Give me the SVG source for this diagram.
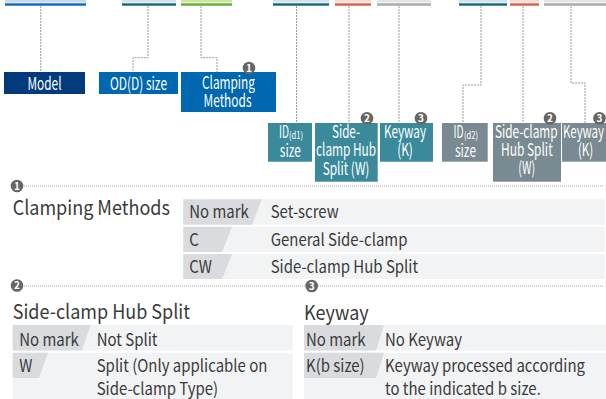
<svg xmlns="http://www.w3.org/2000/svg" width="606" height="399" viewBox="0 0 606 399">
<style>
text{font-family:"Noto Sans CJK SC","Noto Sans",sans-serif}
.bl{fill:#fff;font-size:17.5px;text-anchor:middle}
.sub{font-size:10px}
.conn{fill:none;stroke:#9a9a9a;stroke-width:1;stroke-dasharray:2 1}
.sep{fill:none;stroke:#a8a8a8;stroke-width:1;stroke-dasharray:1 1}
.badge circle{fill:#666}
.badge text{fill:#fff;font-size:10px;text-anchor:middle;font-weight:bold}
.hd{fill:#3a3a3a;font-size:20px}
.tt{fill:#3a3a3a;font-size:17px}
.bg{fill:#f2f3f5}
.lb{fill:#d9dbdf}
</style>
<defs>
<g id="b1" class="badge"><circle r="6.3"/><text y="3.6">1</text></g>
<g id="b2" class="badge"><circle r="6.3"/><text y="3.6">2</text></g>
<g id="b3" class="badge"><circle r="6.3"/><text y="3.6">3</text></g>
</defs>
<g id="bars">
<rect x="5" y="0" width="81" height="2.5" fill="#c5d8ec"/><rect x="5" y="3.3" width="81" height="2.4" fill="#0a6ab3"/>
<rect x="122" y="0" width="54" height="2.5" fill="#d3e3e7"/><rect x="122" y="3.3" width="54" height="2.4" fill="#12657a"/>
<rect x="181" y="0" width="51" height="2.5" fill="#d0e2a6"/><rect x="181" y="3.3" width="51" height="2.4" fill="#62ae2e"/>
<rect x="273" y="0" width="56" height="2.5" fill="#d3e3e7"/><rect x="273" y="3.3" width="56" height="2.4" fill="#12657a"/>
<rect x="335" y="0" width="36" height="2.5" fill="#f6dcd3"/><rect x="335" y="3.3" width="36" height="2.4" fill="#d0604c"/>
<rect x="377" y="0" width="54" height="2.5" fill="#e2e4e7"/><rect x="377" y="3.3" width="54" height="2.4" fill="#a9a9a9"/>
<rect x="459" y="0" width="48" height="2.5" fill="#d3e3e7"/><rect x="459" y="3.3" width="48" height="2.4" fill="#12657a"/>
<rect x="510" y="0" width="29" height="2.5" fill="#f6dcd3"/><rect x="510" y="3.3" width="29" height="2.4" fill="#d0604c"/>
<rect x="544" y="0" width="62" height="2.5" fill="#e2e4e7"/><rect x="544" y="3.3" width="62" height="2.4" fill="#a9a9a9"/>
</g>
<g id="connectors">
<path class="conn" d="M40.7 6V72"/>
<path class="conn" d="M148 6V57.7H133V72"/>
<path class="conn" d="M201 6V57.7H217V72"/>
<path class="conn" d="M296.5 6V123"/>
<path class="conn" d="M349 6V123"/>
<path class="conn" d="M399 6V123"/>
<path class="conn" d="M481 6V85H463V123"/>
<path class="conn" d="M523 6V123"/>
<path class="conn" d="M571 6V83H585V123"/>
</g>
<g id="model"><rect x="4" y="72" width="81" height="22" fill="#023a7c"/><text class="bl" x="44.5" y="90" font-size="18.5" textLength="34" lengthAdjust="spacingAndGlyphs">Model</text></g>
<g id="od"><rect x="99" y="72" width="79" height="22" fill="#0068b1"/><text class="bl" x="138.5" y="90" font-size="18.5" textLength="57" lengthAdjust="spacingAndGlyphs">OD(D) size</text></g>
<g id="clamping"><rect x="181" y="72" width="95" height="40" fill="#0068b1"/><text class="bl" x="228.5" y="89" textLength="53" lengthAdjust="spacingAndGlyphs">Clamping</text><text class="bl" x="227.5" y="107.3" textLength="48" lengthAdjust="spacingAndGlyphs">Methods</text><use href="#b1" x="249" y="68"/></g>
<g id="id1"><rect x="268" y="123" width="44" height="38.7" fill="#3a8a9b"/><text class="bl" x="284" y="138" textLength="10" lengthAdjust="spacingAndGlyphs">ID</text><text class="bl sub" x="296" y="139" textLength="14" lengthAdjust="spacingAndGlyphs">(d1)</text><text class="bl" x="290.3" y="156.5" textLength="21" lengthAdjust="spacingAndGlyphs">size</text></g>
<g id="side1"><rect x="315" y="123" width="62.7" height="58.7" fill="#3a8a9b"/><text class="bl" x="346" y="137.5" textLength="28" lengthAdjust="spacingAndGlyphs">Side-</text><text class="bl" x="346" y="156" textLength="60" lengthAdjust="spacingAndGlyphs">clamp Hub</text><text class="bl" x="346" y="174.5" textLength="46.7" lengthAdjust="spacingAndGlyphs">Split (W)</text><use href="#b2" x="367" y="118.3"/></g>
<g id="key1"><rect x="380" y="123" width="53" height="38.7" fill="#3a8a9b"/><text class="bl" x="405" y="137.5" textLength="42" lengthAdjust="spacingAndGlyphs">Keyway</text><text class="bl" x="405" y="156" textLength="15.7" lengthAdjust="spacingAndGlyphs">(K)</text><use href="#b3" x="421" y="118.3"/></g>
<g id="id2"><rect x="442" y="123" width="45.7" height="38.7" fill="#798a92"/><text class="bl" x="458.5" y="138" textLength="10" lengthAdjust="spacingAndGlyphs">ID</text><text class="bl sub" x="471" y="139" textLength="14" lengthAdjust="spacingAndGlyphs">(d2)</text><text class="bl" x="465.5" y="156.5" textLength="21" lengthAdjust="spacingAndGlyphs">size</text></g>
<g id="side2"><rect x="493" y="123" width="68" height="58.7" fill="#798a92"/><text class="bl" x="526.3" y="137.5" textLength="62.7" lengthAdjust="spacingAndGlyphs">Side-clamp</text><text class="bl" x="526.8" y="156" textLength="51.7" lengthAdjust="spacingAndGlyphs">Hub Split</text><text class="bl" x="526.7" y="174" textLength="16.7" lengthAdjust="spacingAndGlyphs">(W)</text><use href="#b2" x="550" y="118.3"/></g>
<g id="key2"><rect x="562" y="123" width="44" height="38.7" fill="#798a92"/><text class="bl" x="583.5" y="137.5" textLength="41" lengthAdjust="spacingAndGlyphs">Keyway</text><text class="bl" x="585.6" y="156" textLength="15.3" lengthAdjust="spacingAndGlyphs">(K)</text><use href="#b3" x="599.5" y="118.3"/></g>

<g id="section1">
<path class="sep" d="M22 186H603"/>
<use href="#b1" x="17" y="186"/>
<text class="hd" transform="translate(12.7 215) scale(.9 1)">Clamping Methods</text>
<rect class="bg" x="183.3" y="199.3" width="421.4" height="25.4"/>
<polygon class="lb" points="183.3,199.3 262,199.3 252,224.7 183.3,224.7"/>
<rect class="bg" x="183.3" y="226.7" width="421.4" height="25.3"/>
<polygon class="lb" points="183.3,226.7 232,226.7 222,252 183.3,252"/>
<rect class="bg" x="183.3" y="254" width="421.4" height="25"/>
<polygon class="lb" points="183.3,254 232,254 222,279 183.3,279"/>
<text class="tt" transform="translate(189.3 218) scale(.88 1)">No mark</text><text class="tt" transform="translate(270.7 218) scale(.88 1)">Set-screw</text>
<text class="tt" transform="translate(189.3 245.5) scale(.88 1)">C</text><text class="tt" transform="translate(270.7 245.5) scale(.88 1)">General Side-clamp</text>
<text class="tt" transform="translate(189.3 272.5) scale(.88 1)">CW</text><text class="tt" transform="translate(270.7 272.5) scale(.88 1)">Side-clamp Hub Split</text>
</g>
<g id="section2">
<path class="sep" d="M22 286H603"/>
<use href="#b2" x="17" y="285.5"/>
<text class="hd" transform="translate(12.7 319) scale(.9 1)">Side-clamp Hub Split</text>
<rect class="bg" x="12.7" y="325" width="280" height="25.5"/>
<polygon class="lb" points="12.7,325 90.7,325 81.7,350.5 12.7,350.5"/>
<rect class="bg" x="12.7" y="352.7" width="280" height="46.3"/>
<polygon class="lb" points="12.7,352.7 48,352.7 39,378 12.7,378"/>
<text class="tt" transform="translate(19.3 345.5) scale(.88 1)">No mark</text><text class="tt" transform="translate(96.7 345.5) scale(.88 1)">Not Split</text>
<text class="tt" transform="translate(19.3 371.5) scale(.88 1)">W</text><text class="tt" transform="translate(96.7 371.5) scale(.88 1)">Split (Only applicable on</text>
<text class="tt" transform="translate(96.7 394.5) scale(.88 1)">Side-clamp Type)</text>
</g>
<g id="section3">
<use href="#b3" x="311.7" y="286"/>
<text class="hd" transform="translate(304 320) scale(.9 1)">Keyway</text>
<rect class="bg" x="304" y="325" width="302" height="25.5"/>
<polygon class="lb" points="304,325 384,325 376,350.5 304,350.5"/>
<rect class="bg" x="304" y="352.7" width="302" height="46.3"/>
<polygon class="lb" points="304,352.7 384,352.7 376,378 304,378"/>
<text class="tt" transform="translate(306 346) scale(.88 1)">No mark</text><text class="tt" transform="translate(385 346) scale(.88 1)">No Keyway</text>
<text class="tt" transform="translate(306 371.5) scale(.88 1)">K(b size)</text><text class="tt" transform="translate(385 371.5) scale(.88 1)">Keyway processed according</text>
<text class="tt" transform="translate(385 394.5) scale(.88 1)">to the indicated b size.</text>
</g>
</svg>
